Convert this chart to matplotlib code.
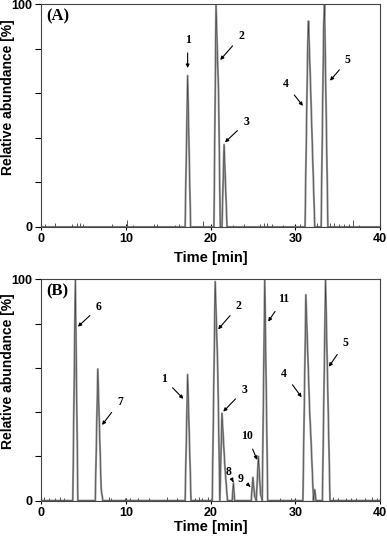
import matplotlib
matplotlib.use('Agg')
import matplotlib.pyplot as plt
from matplotlib.ticker import MultipleLocator

plt.rcParams['font.family'] = 'Liberation Sans'

# panel A trace vertices (time [min], relative abundance [%])
a_time = [0, 17.0, 17.3, 17.65, 20.4, 20.65, 20.95, 21.15, 21.35, 21.6, 21.95,
          31.15, 31.45, 31.55, 31.75, 32.3, 33.05, 33.35, 33.45, 33.85, 40]
a_abund = [0, 0, 68, 0, 0, 99.5, 60, 0, 0, 37, 0,
           0, 78, 92.5, 70, 0, 0, 90, 100, 0, 0]
a_noise_t = [0.5, 1.7, 3.6, 4.2, 4.6, 5.0, 8.4, 10.1, 10.8, 13.3, 13.7, 15.8, 16.3,
             19.1, 22.7, 24.0, 25.8, 26.3, 26.7, 27.2, 28.5, 30.5, 32.6,
             34.1, 34.6, 35.2, 35.8, 36.3, 36.8, 37.5]
a_noise_h = [1.5, 1.8, 1.5, 2, 2, 1.2, 1.5, 3, 1, 1.5, 1.5, 1, 1.5,
             2.5, 1, 1.5, 1.5, 1.8, 2, 1.5, 1, 1.5, 2,
             2, 2, 1.5, 1.5, 1.5, 3, 1]
a_labels = ['1', '2', '3', '4', '5']
a_text = [(17.3, 84), (23.6, 85.7), (24.2, 47), (28.9, 64), (36.2, 75)]
a_tip = [(17.3, 71.4), (21.14, 75), (21.7, 38), (30.9, 54.4), (34.1, 65.7)]

# panel B trace vertices
b_time = [0, 3.75, 4.05, 4.35, 6.4, 6.7, 7.1, 7.3, 17.0, 17.3, 17.7,
          20.2, 20.55, 20.85, 21.1, 21.35, 21.7, 22.0, 22.55, 22.7, 22.85,
          24.8, 25.0, 25.2, 25.4, 25.65, 25.9, 26.1, 26.4, 26.75,
          30.9, 31.25, 31.7, 31.85, 32.15, 32.3, 32.45, 33.2, 33.57, 34.1, 40]
b_abund = [0, 0, 99.7, 0, 0, 59.5, 5, 0, 0, 57, 0,
           0, 99, 60, 0, 39.5, 15, 0, 0, 8, 0,
           0, 10.5, 2, 0, 20, 3, 0, 100, 0,
           0, 93, 40, 28, 0, 5, 0, 0, 100, 0, 0]
b_noise_t = [0.4, 1.0, 1.6, 2.2, 2.7, 8.0, 8.3, 9.9, 10.5, 11.5, 12.7, 14.9, 16.0,
             18.2, 18.6, 19.0, 19.7, 28.2, 29.5, 34.5, 35.0, 36.0, 36.6, 37.2,
             38.2, 39.0, 39.6]
b_noise_h = [1.5, 1.2, 1.2, 1.5, 1.2, 1.5, 1.0, 1.2, 1, 1, 1.2, 1.8, 1,
             1, 1.5, 1.2, 1.5, 1, 1, 1.5, 1, 1, 1.3, 1,
             1, 1.5, 1]
b_labels = ['6', '7', '1', '2', '3', '8', '9', '10', '11', '4', '5']
b_text = [(6.8, 87.3), (9.3, 44.7), (14.5, 55), (23.3, 88), (23.96, 50), (22.1, 12.8),
          (23.6, 10), (24.35, 29), (28.6, 91), (28.7, 57.4), (35.9, 71.4)]
b_tip = [(4.35, 78.6), (7.2, 34.2), (16.8, 46), (20.9, 77.4), (21.5, 40.2), (22.7, 8.4),
         (24.7, 6.3), (25.5, 18.4), (26.8, 80.9), (30.75, 46.7), (33.96, 60.5)]

fig = plt.figure(figsize=(3.87, 5.43), dpi=100)
ax_a = fig.add_axes([0.106, 0.582, 0.876, 0.41])
ax_b = fig.add_axes([0.106, 0.078, 0.876, 0.4076])

panels = [(ax_a, '(A)', a_time, a_abund, a_noise_t, a_noise_h, a_labels, a_text, a_tip, -0.14),
          (ax_b, '(B)', b_time, b_abund, b_noise_t, b_noise_h, b_labels, b_text, b_tip, -0.118)]

for ax, tag, t, y, nt, nh, labs, txt, tip, xl_y in panels:
    ax.plot(t, y, color='#9a9a9a', lw=1.5)
    ax.plot(t, y, color='#3a3a3a', lw=0.4)
    ax.vlines(nt, 0, nh, color='#555555', lw=0.7)
    ax.axhline(0, color='#333333', lw=0.8)
    for lab, xt, xy in zip(labs, txt, tip):
        ax.annotate(lab, xy=xy, xytext=xt, ha='center', va='center',
                    fontsize=8.5, fontweight='bold', family='Liberation Serif',
                    arrowprops=dict(arrowstyle='-|>', color='black', lw=0.8,
                                    mutation_scale=5, shrinkA=3, shrinkB=0))
    ax.text(0.015, 0.945, tag, transform=ax.transAxes, fontsize=12,
            fontweight='bold', family='Liberation Serif', va='center')
    ax.set_xlim(0, 40)
    ax.set_ylim(0, 100)
    ax.set_yticks([0, 100])
    ax.yaxis.set_minor_locator(MultipleLocator(20))
    ax.set_xticks([0, 10, 20, 30, 40])
    ax.tick_params(axis='x', direction='inout', length=5, width=0.8, labelsize=9, pad=2)
    ax.tick_params(axis='y', which='both', direction='out', length=4, width=0.8,
                   labelsize=9, pad=2)
    for lbl in ax.get_xticklabels() + ax.get_yticklabels():
        lbl.set_fontweight('bold')
    for sp in ax.spines.values():
        sp.set_color('#444444')
        sp.set_linewidth(0.8)
    ax.set_xlabel('Time [min]', fontsize=10.5, fontweight='bold', va='center')
    ax.xaxis.set_label_coords(0.5, xl_y)
    ax.set_ylabel('Relative abundance [%]', fontsize=10, fontweight='bold', va='center')
    ax.yaxis.set_label_coords(-0.098, 0.585)

fig.savefig('out.png', dpi=100)
